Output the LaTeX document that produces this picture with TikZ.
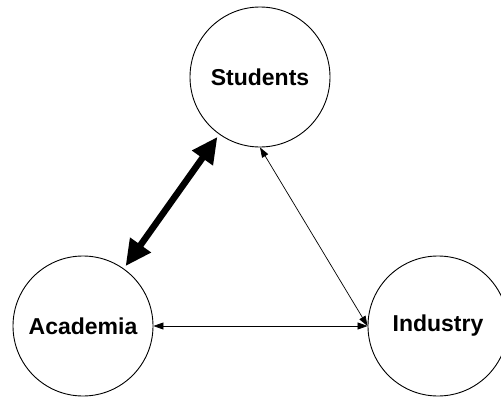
\documentclass[tikz,border=0pt]{standalone}
\usepackage{fontspec}
\setmainfont{Liberation Sans}
\usetikzlibrary{arrows.meta}
\begin{document}
\begin{tikzpicture}[x=1pt,y=-1pt,
  party/.style={circle,draw=black,line width=0.9pt,minimum size=140pt,inner sep=0pt,
    font=\fontsize{23}{27}\selectfont\bfseries},
  thinlink/.style={line width=0.7pt,{Triangle[length=10pt,width=7pt]}-{Triangle[length=10pt,width=7pt]}},
  thicklink/.style={line width=6.5pt,{Triangle[length=26pt,width=24pt]}-{Triangle[length=26pt,width=24pt]},
    shorten <=3pt,shorten >=3pt}]
\useasboundingbox (0,0) rectangle (501,399);
\fill[white] (0,0) rectangle (501,399);
\node[party] (stu) at (260,77) {Students};
\node[party] (aca) at (83,326) {Academia};
\node[party] (ind) at (438,326) {Industry};
\draw[thicklink] (aca) -- (stu);
\draw[thinlink] (stu.south) -- (ind.west);
\draw[thinlink] (aca.east) -- (ind.west);
\end{tikzpicture}
\end{document}
